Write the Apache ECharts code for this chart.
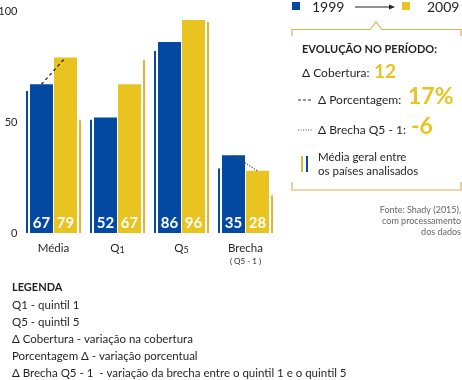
<!DOCTYPE html>
<html>
<head>
<meta charset="utf-8">
<script src="https://cdn.jsdelivr.net/npm/echarts@6/dist/echarts.min.js"></script>
<style>html,body{margin:0;padding:0;background:#fff;}#c{width:462px;height:380px;}</style>
</head>
<body>
<div id="c"></div>
<script>
const categories = ['Média', 'Q1', 'Q5', 'Brecha'];
const values1999 = [67, 52, 86, 35];
const values2009 = [79, 67, 96, 28];
const avg1999 = [64, 51, 82, 29];
const avg2009 = [51, 78, 95, 17];
const yTicks = [0, 50, 100];
const connectors = [[0, 67, 79, 'dashed'], [3, 35, 28, 'dotted']];
const legendYears = ['1999', '2009'];
const evolution = ['12', '17%', '-6'];

const BLUE = '#0349a2';
const YELLOW = '#e9c31f';
const THINY = '#e0b43c';
const GOLD = '#dab44f';
const TXT = '#231f20';
const FONT = 'Lato, "Open Sans", sans-serif';

const chart = echarts.init(document.getElementById('c'));

function spacer(w) {
  return { type: 'bar', barWidth: w, barGap: '0%', data: categories.map(() => 0), itemStyle: { color: 'transparent' }, silent: true };
}
const valLabel = { show: true, position: 'insideBottom', distance: 2, color: '#fff', fontWeight: 'bold', fontSize: 15, fontFamily: FONT };

function t(text, x, y, font, fill, align) {
  return { type: 'text', x: x, y: y, style: { text: text, font: font, fill: fill || TXT, align: align || 'left', verticalAlign: 'middle' } };
}

const graphics = [
  { type: 'rect', shape: { x: 292, y: 2, width: 8, height: 8 }, style: { fill: BLUE } },
  t(legendYears[0], 312, 7, '14px ' + FONT),
  { type: 'line', shape: { x1: 355, y1: 7, x2: 390, y2: 7 }, style: { stroke: '#222', lineWidth: 1 } },
  { type: 'polygon', shape: { points: [[389, 4.5], [395, 7], [389, 9.5]] }, style: { fill: '#222' } },
  { type: 'rect', shape: { x: 402, y: 2, width: 8, height: 8 }, style: { fill: YELLOW } },
  t(legendYears[1], 427, 7, '14px ' + FONT),
  { type: 'polyline', shape: { points: [[292, 36], [292, 29.5], [370, 29.5], [376, 22], [382, 29.5], [461, 29.5], [461, 36]] }, style: { stroke: GOLD, lineWidth: 1.2, fill: null } },
  { type: 'polyline', shape: { points: [[292, 182], [292, 190], [461, 190], [461, 182]] }, style: { stroke: GOLD, lineWidth: 1.2, fill: null } },
  t('EVOLUÇÃO NO PERÍODO:', 302, 49, 'bold 11px ' + FONT),
  t('Δ Cobertura:', 302, 73, '12px ' + FONT),
  t(evolution[0], 374, 72, 'bold 19px ' + FONT, YELLOW),
  { type: 'line', shape: { x1: 298, y1: 100, x2: 312, y2: 100 }, style: { stroke: '#333', lineWidth: 1, lineDash: [3, 2] } },
  t('Δ Porcentagem:', 318, 100, '12px ' + FONT),
  t(evolution[1], 408, 97, 'bold 23px ' + FONT, YELLOW),
  { type: 'line', shape: { x1: 298, y1: 130, x2: 312, y2: 130 }, style: { stroke: '#555', lineWidth: 1, lineDash: [1, 1.5] } },
  t('Δ Brecha Q5 - 1:', 318, 130, '12px ' + FONT),
  t(evolution[2], 411, 127, 'bold 23px ' + FONT, YELLOW),
  { type: 'line', shape: { x1: 302, y1: 156, x2: 302, y2: 172 }, style: { stroke: THINY, lineWidth: 2 } },
  { type: 'line', shape: { x1: 307, y1: 156, x2: 307, y2: 172 }, style: { stroke: BLUE, lineWidth: 2 } },
  t('Média geral entre', 318, 157, '11.5px ' + FONT),
  t('os países analisados', 318, 171, '11.5px ' + FONT),
  t('Fonte: Shady (2015),', 461, 210, '9px ' + FONT, '#666', 'right'),
  t('com processamento', 461, 221, '9px ' + FONT, '#666', 'right'),
  t('dos dados', 461, 232, '9px ' + FONT, '#666', 'right'),
  t('LEGENDA', 12, 287, 'bold 11px ' + FONT),
  t('Q1 - quintil 1', 12, 305, '11.5px ' + FONT),
  t('Q5 - quintil 5', 12, 322, '11.5px ' + FONT),
  t('Δ Cobertura - variação na cobertura', 12, 339, '11.5px ' + FONT),
  t('Porcentagem Δ - variação porcentual', 12, 356, '11.5px ' + FONT),
  t('Δ Brecha Q5 - 1  - variação da brecha entre o quintil 1 e o quintil 5', 12, 373, '11.5px ' + FONT)
];

chart.setOption({
  animation: false,
  textStyle: { fontFamily: FONT },
  grid: { left: 21.5, top: 11, width: 256, bottom: 147, containLabel: false, outerBoundsMode: 'none' },
  xAxis: {
    type: 'category', data: categories,
    axisLine: { show: false }, axisTick: { show: false },
    axisLabel: {
      interval: 0, margin: 8, color: TXT, fontSize: 11, fontFamily: FONT,
      formatter: function (v) {
        if (v === 'Brecha') return '{a|Brecha}\n{b|( Q5 - 1 )}';
        if (v === 'Q1' || v === 'Q5') return '{a|Q}{n|' + v.slice(1) + '}';
        return '{a|' + v + '}';
      },
      rich: {
        a: { fontSize: 11.5, color: TXT, fontFamily: FONT, lineHeight: 14 },
        n: { fontSize: 9, color: TXT, fontFamily: FONT, lineHeight: 14, padding: [4, 0, 0, 0] },
        b: { fontSize: 8, color: TXT, fontFamily: FONT, lineHeight: 12 }
      }
    }
  },
  yAxis: {
    type: 'value', min: yTicks[0], max: yTicks[yTicks.length - 1], interval: 50,
    axisLine: { show: false }, axisTick: { show: false }, splitLine: { show: false },
    axisLabel: { margin: 4, color: TXT, fontSize: 11, fontFamily: FONT,
      formatter: function (v) { return yTicks.indexOf(v) >= 0 ? String(v) : ''; } }
  },
  series: [
    { type: 'bar', name: 'avg1999', barWidth: 2, barGap: '0%', data: avg1999, itemStyle: { color: BLUE } },
    spacer(2),
    { type: 'bar', name: '1999', barWidth: 23, barGap: '0%', data: values1999, itemStyle: { color: BLUE }, label: valLabel },
    spacer(1),
    { type: 'bar', name: '2009', barWidth: 23, barGap: '0%', data: values2009, itemStyle: { color: YELLOW }, label: valLabel },
    spacer(2),
    { type: 'bar', name: 'avg2009', barWidth: 2, barGap: '0%', data: avg2009, itemStyle: { color: THINY } },
    {
      type: 'custom', data: connectors, encode: { x: 0, y: [1, 2] }, z: 10,
      renderItem: function (params, api) {
        const p1 = api.coord([api.value(0), api.value(1)]);
        const p2 = api.coord([api.value(0), api.value(2)]);
        const dotted = connectors[params.dataIndex][3] === 'dotted';
        return {
          type: 'line',
          shape: { x1: p1[0] - 12, y1: p1[1], x2: p2[0] + 12, y2: p2[1] },
          style: { stroke: dotted ? '#555' : '#111', lineWidth: 1.2, lineDash: dotted ? [1.2, 1.5] : [3, 3] }
        };
      }
    }
  ],
  graphic: graphics
});
</script>
</body>
</html>
